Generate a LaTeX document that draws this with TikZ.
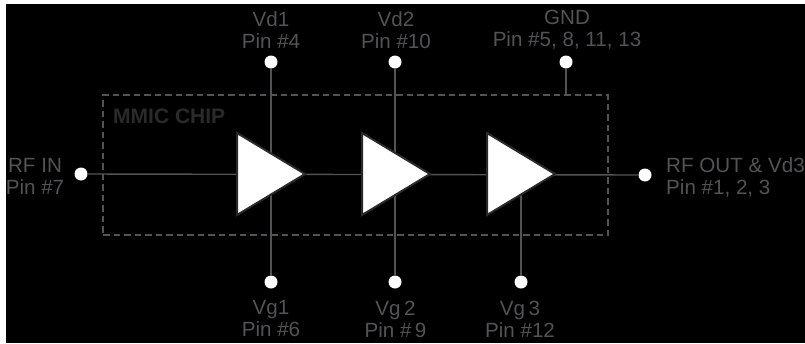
\documentclass[tikz,border=0pt]{standalone}
\usepackage{fontspec}
\setmainfont{Liberation Sans}
\usetikzlibrary{shapes.geometric}
\definecolor{txt}{HTML}{545256}
\definecolor{wire}{HTML}{545256}
\definecolor{edge}{HTML}{2A2A2A}
\tikzset{
  pin/.style={circle,fill=white,draw=none,inner sep=0pt,minimum size=13pt},
  wireline/.style={draw=wire,line width=1.4pt},
  amp/.style={isosceles triangle,isosceles triangle stretches=true,draw=edge,fill=white,line width=2pt,inner sep=0pt,minimum height=68pt,minimum width=82pt,anchor=west},
  lab/.style={text=txt,font=\fontsize{20.6}{22}\selectfont,align=center,inner sep=0pt,anchor=center},
  chip/.style={draw=wire,line width=2pt,dash pattern=on 6.5pt off 4pt}
}
\begin{document}
\begin{tikzpicture}[x=1pt,y=-1pt]
\useasboundingbox (0,0) rectangle (805,343);
\fill[white] (0,0) rectangle (805,343);
\fill[black] (6,4) rectangle (805,343);
% chip outline
\node[chip,rectangle,inner sep=0pt,minimum width=505pt,minimum height=140pt] (box) at (355.5,165) {};
\node[text=edge,font=\fontsize{21}{22}\selectfont\bfseries,anchor=base west,inner sep=0pt] (chiplabel) at (113,123.5) {MMIC CHIP};
% pins
\node[pin] (rfin) at (81,174) {};
\node[pin] (rfout) at (645,175) {};
\node[pin] (vd1) at (271,62) {};
\node[pin] (vd2) at (395,62) {};
\node[pin] (gnd) at (566,62) {};
\node[pin] (vg1) at (271,282) {};
\node[pin] (vg2) at (395,282) {};
\node[pin] (vg3) at (521,282) {};
% amplifier anchors
\coordinate (a1) at (236,174);
\coordinate (a2) at (361,174);
\coordinate (a3) at (486,174);
% wires beneath amplifiers
\draw[wireline] (vd1) -- (vg1);
\draw[wireline] (vd2) -- (vg2);
\draw[wireline] (vg3) -- (vg3 |- a3);
\draw[wireline] (gnd) -- (gnd |- box.north);
\draw[wireline] (rfin) -- (rfout);
% amplifiers
\node[amp] (amp1) at (a1) {};
\node[amp] (amp2) at (a2) {};
\node[amp] (amp3) at (a3) {};
% labels
\node[lab] (lvd1) at (271,30) {Vd1\\Pin \#4};
\node[lab] (lvd2) at (396,30) {Vd2\\Pin \#10};
\node[lab] (lgnd) at (567,30) {GND\\Pin \#5, 8, 11, 13};
\node[lab] (lvg1) at (271,319) {Vg1\\Pin \#6};
\node[lab] (lvg2) at (395.5,319) {Vg\,2\\Pin \#\,9};
\node[lab] (lvg3) at (520,319) {Vg\,3\\Pin \#12};
\node[lab] (lrfin) at (35,176) {RF IN\\Pin \#7};
\node[lab,align=left,anchor=west] (lrfout) at (666,177) {RF OUT \& Vd3\\Pin \#1, 2, 3};
\end{tikzpicture}
\end{document}
